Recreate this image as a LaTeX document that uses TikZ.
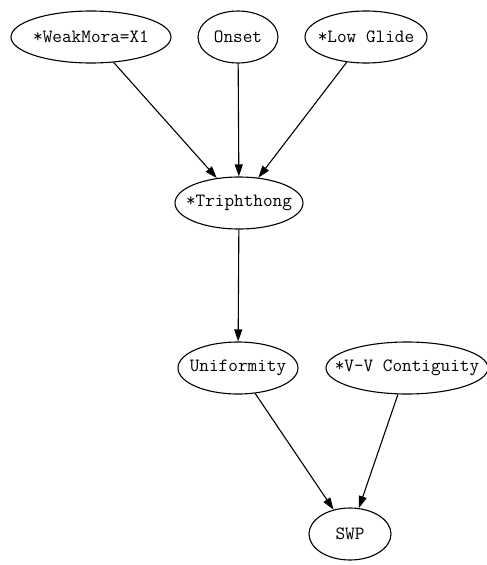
\documentclass[tikz,border=0pt]{standalone}
\usepackage{fontspec}
\usepackage{tikz}
\usetikzlibrary{arrows.meta,shapes.geometric}

% keep the label from widening the ellipse
\newcommand{\ctext}[1]{\makebox[0pt]{#1}}

\begin{document}
\begin{tikzpicture}[
  x=1pt, y=-1pt,
  font=\ttfamily\fontsize{18.7}{22}\selectfont,
  con/.style={draw, ellipse, inner sep=0pt, minimum height=52pt, line width=1.1pt},
  arrow/.style={-{Triangle[length=12pt,width=8pt]}, line width=1.1pt}
]
\useasboundingbox (0,0) rectangle (487,565);
% top rank
\node[con, minimum width=160pt] (wm) at (91,37) {\ctext{*WeakMora=X1}};
\node[con, minimum width=80pt] (onset) at (238,37) {\ctext{Onset}};
\node[con, minimum width=122pt] (lg) at (366,37) {\ctext{*Low Glide}};
% middle
\node[con, minimum width=128pt] (tri) at (239,203) {\ctext{*Triphthong}};
\node[con, minimum width=120pt] (unif) at (238,368) {\ctext{Uniformity}};
\node[con, minimum width=162pt] (vv) at (407,368) {\ctext{*V-V Contiguity}};
% bottom
\node[con, minimum width=82pt] (swp) at (350,534) {\ctext{SWP}};
\draw[arrow] (wm) -- (tri);
\draw[arrow] (onset) -- (tri);
\draw[arrow] (lg) -- (tri);
\draw[arrow] (tri) -- (unif);
\draw[arrow] (unif) -- (swp);
\draw[arrow] (vv) -- (swp);
\end{tikzpicture}
\end{document}
